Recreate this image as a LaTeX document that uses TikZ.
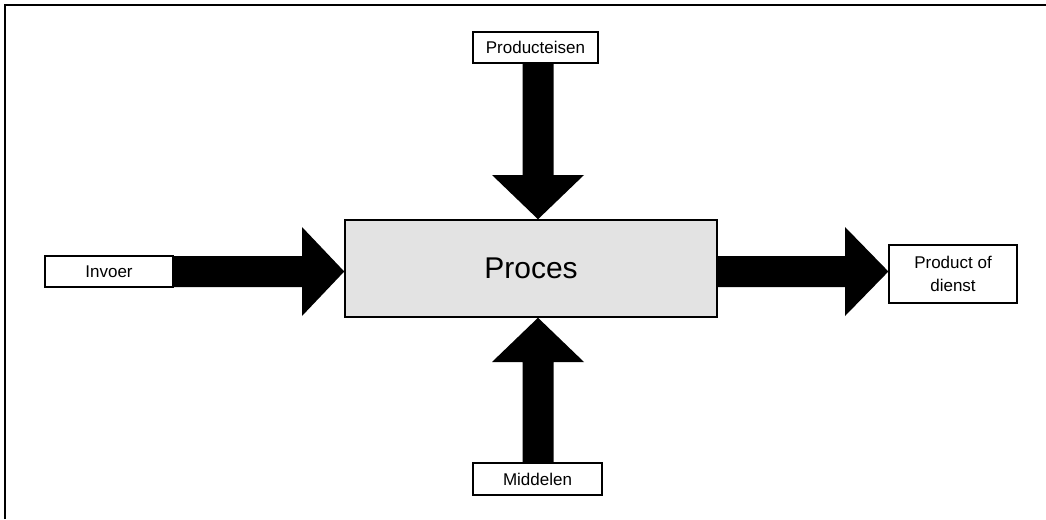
\documentclass[tikz,border=0pt]{standalone}
\usepackage{fontspec}
\setmainfont{Liberation Sans}
\usetikzlibrary{calc}
\definecolor{procfill}{HTML}{E3E3E3}
\begin{document}
\begin{tikzpicture}[x=1pt,y=-1pt,
  label box/.style={draw, line width=1.2pt, fill=white, inner sep=0pt,
    font=\fontsize{17}{23}\selectfont, align=center},
  process box/.style={draw, line width=1.5pt, fill=procfill, inner sep=0pt,
    minimum width=372pt, minimum height=97pt, font=\fontsize{30}{34}\selectfont},
  block/.style={fill=black, draw=none}]
  \useasboundingbox (0,0) rectangle (1046,519);
  % open frame: top and left edges only
  \draw[line width=2.5pt] (5,519) -- (5,5) -- (1046,5);

  % nodes
  \node[process box] (proc) at (531,268.5) {Proces};
  \node[label box, minimum width=128pt, minimum height=31pt] (in) at (109,271.5) {Invoer};
  \node[label box, minimum width=128pt, minimum height=58pt] (out) at (953,274) {Product of\\dienst};
  \node[label box, minimum width=125pt, minimum height=31pt] (req) at (535.5,47.5) {Producteisen};
  \node[label box, minimum width=129pt, minimum height=32pt] (res) at (537.5,479) {Middelen};

  % block arrows
  % Invoer -> Proces
  \fill[block] (in.east |- 0,256) -- (302,256) -- (302,227) -- (proc.west |- 0,271.5)
    -- (302,316) -- (302,287) -- (in.east |- 0,287) -- cycle;
  % Proces -> Product of dienst
  \fill[block] (proc.east |- 0,256) -- (845,256) -- (845,227) -- (out.west |- 0,271.5)
    -- (845,316) -- (845,287) -- (proc.east |- 0,287) -- cycle;
  % Producteisen -> Proces
  \fill[block] (522.5,0 |- req.south) -- (522.5,175) -- (492,175) -- (538,0 |- proc.north)
    -- (584,175) -- (553.5,175) -- (553.5,0 |- req.south) -- cycle;
  % Middelen -> Proces
  \fill[block] (522.5,0 |- res.north) -- (522.5,362) -- (492,362) -- (538,0 |- proc.south)
    -- (584,362) -- (553.5,362) -- (553.5,0 |- res.north) -- cycle;

  % redraw boxes on top of arrow ends
  \node[process box] at (proc) {Proces};
  \node[label box, minimum width=128pt, minimum height=31pt] at (in) {Invoer};
  \node[label box, minimum width=128pt, minimum height=58pt] at (out) {Product of\\dienst};
  \node[label box, minimum width=125pt, minimum height=31pt] at (req) {Producteisen};
  \node[label box, minimum width=129pt, minimum height=32pt] at (res) {Middelen};
\end{tikzpicture}
\end{document}
